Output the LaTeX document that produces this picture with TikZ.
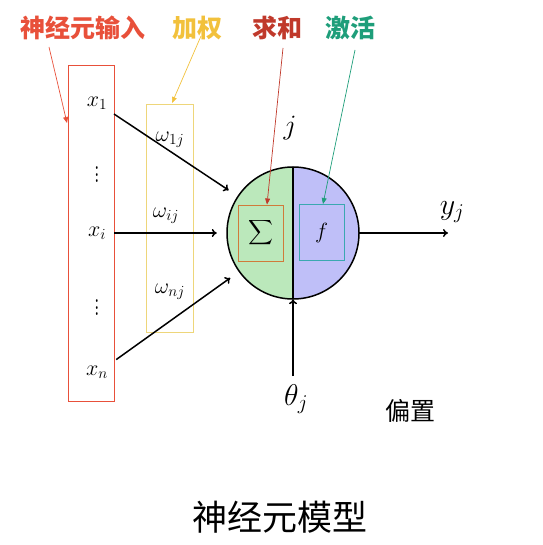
\RequirePackage{fix-cm}
\documentclass[tikz,border=0pt]{standalone}
\usepackage{exscale}
\usepackage{graphicx}
\usepackage{fontspec}
\newfontfamily\cjk{Noto Sans CJK SC}
\usetikzlibrary{arrows.meta,calc}
\definecolor{cred}{HTML}{E8503A}
\definecolor{cyel}{HTML}{F2C13C}
\definecolor{cyelbox}{HTML}{EED67A}
\definecolor{cdred}{HTML}{C0392B}
\definecolor{cteal}{HTML}{1E9E7A}
\definecolor{csig}{HTML}{D07A3A}
\definecolor{cfbox}{HTML}{3AA8B0}
\definecolor{cgreen}{HTML}{BBE8BB}
\definecolor{cblue}{HTML}{BFBFF8}
\tikzset{
  mainarr/.style={line width=1.5pt,-{To[length=5pt,width=8pt]}},
  annarr/.style={line width=0.7pt,-{Triangle[length=6pt,width=5pt]}},
  toplab/.style={font=\cjk\fontsize{25}{27}\selectfont\bfseries,inner sep=0pt},
  mathlab/.style={font=\fontsize{22}{24}\selectfont,inner sep=0pt},
  innerbox/.style={draw,line width=1pt,minimum width=45pt,minimum height=56pt,inner sep=0pt}
}
\begin{document}
\begin{tikzpicture}[x=1pt,y=-1pt]
\useasboundingbox (0,0) rectangle (542,545);
% top labels
\node[toplab,text=cred] (lab1) at (83,28) {神经元输入};
\node[toplab,text=cyel] (lab2) at (197,28) {加权};
\node[toplab,text=cdred] (lab3) at (277,28) {求和};
\node[toplab,text=cteal] (lab4) at (350,28) {激活};
% input boxes
\node[draw=cred,line width=1pt,minimum width=46pt,minimum height=335pt,inner sep=0pt] (redbox) at (91,233.5) {};
\node[draw=cyelbox,line width=1pt,minimum width=47pt,minimum height=227pt,inner sep=0pt] (yelbox) at (169.5,218.5) {};
% inputs
\node[mathlab] (x1) at (97,103) {$x_1$};
\node[mathlab] (d1) at (97,170) {\scalebox{1}[1.6]{$\vdots$}};
\node[mathlab] (xi) at (97,233) {$x_i$};
\node[mathlab] (d2) at (97,303) {\scalebox{1}[1.6]{$\vdots$}};
\node[mathlab] (xn) at (97,372) {$x_n$};
% weights
\node[mathlab] (w1) at (170,140) {$\omega_{1j}$};
\node[mathlab] (wi) at (166,216) {$\omega_{ij}$};
\node[mathlab] (wn) at (170,292) {$\omega_{nj}$};
% neuron
\node[circle,minimum size=132pt,inner sep=0pt] (neuron) at (293,233) {};
\fill[cgreen] (neuron.north) arc[start angle=90,end angle=270,radius=66pt] -- cycle;
\fill[cblue] (neuron.north) arc[start angle=90,end angle=-90,radius=66pt] -- cycle;
\draw[line width=1.5pt] (neuron.north) -- (neuron.south);
\draw[line width=1.5pt] (neuron.center) circle[radius=66pt];
\node[innerbox,draw=csig] (sig) at (260.5,233) {\fontsize{19}{21}\selectfont$\displaystyle\sum$};
\node[innerbox,draw=cfbox] (fb) at (321.5,232.5) {\fontsize{22}{24}\selectfont$f$};
\node[font=\fontsize{28}{30}\selectfont,inner sep=0pt] (jlab) at (290,128) {$j$};
% main arrows
\draw[mainarr,shorten <=8pt,shorten >=11pt] (x1.south east) -- (neuron);
\draw[mainarr,shorten <=8pt,shorten >=10pt] (xi.east) -- (neuron);
\draw[mainarr,shorten <=10pt,shorten >=11pt] (xn.north east) -- (neuron);
% output
\coordinate (yend) at (448,233);
\draw[mainarr] (neuron.east) -- (yend);
\node[font=\fontsize{30}{32}\selectfont,inner sep=0pt] (ylab) at (452,212) {$y_j$};
% bias
\node[font=\fontsize{30}{32}\selectfont,inner sep=0pt] (theta) at (296,399) {$\theta_j$};
\coordinate (tstart) at (293,376);
\draw[mainarr] (tstart) -- (neuron.south);
\node[font=\cjk\fontsize{25}{27}\selectfont,inner sep=0pt] (bias) at (410,411) {偏置};
% annotation arrows
\coordinate (a1s) at (49,47);
\coordinate (a1e) at (67,123);
\draw[annarr,cred] (a1s) -- (a1e);
\coordinate (a2s) at (201,36);
\coordinate (a2e) at (172,103);
\draw[annarr,cyel] (a2s) -- (a2e);
\coordinate (a3s) at (283,48);
\draw[annarr,cdred] (a3s) -- (sig.north -| 267,0);
\coordinate (a4s) at (355,50);
\draw[annarr,cteal] (a4s) -- (fb.north -| 323,0);
% title
\node[font=\cjk\fontsize{35}{37}\selectfont,inner sep=0pt] (title) at (280,517) {神经元模型};
\end{tikzpicture}
\end{document}
